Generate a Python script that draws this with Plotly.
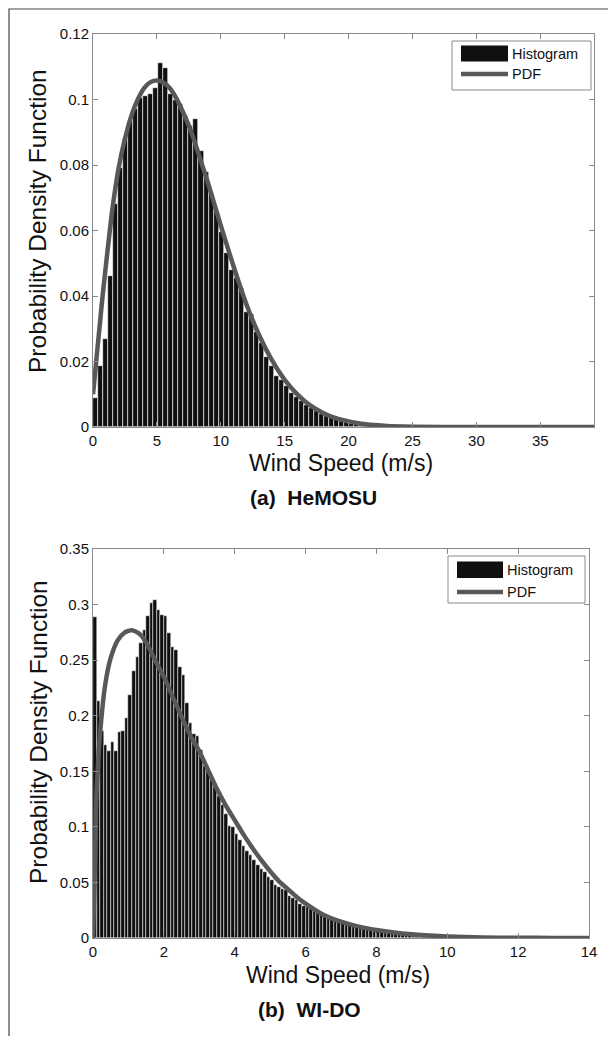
import plotly.graph_objects as go

# ---------------- data: (a) HeMOSU ----------------
hemosu_bin_width = 0.393
hemosu_density = [
    0.009, 0.0185, 0.027, 0.046, 0.068, 0.079, 0.088, 0.0935, 0.097, 0.1005,
    0.1012, 0.1018, 0.1035, 0.111, 0.1095, 0.1017, 0.0998, 0.0985, 0.095, 0.092,
    0.094, 0.0843, 0.078, 0.071, 0.066, 0.0595, 0.053, 0.048, 0.0455, 0.0425,
    0.035, 0.0345, 0.029, 0.0255, 0.0215, 0.0185, 0.0155, 0.0145, 0.0125, 0.0105,
    0.0092, 0.0078, 0.0068, 0.0058, 0.0048, 0.0040, 0.0034, 0.0028, 0.0023, 0.0019,
    0.0016, 0.0013, 0.0011, 0.0009, 0.0007, 0.0006, 0.0005, 0.0004, 0.0003, 0.0003,
    0.0002, 0.0002, 0.0001, 0.0001, 0.0001, 0.00005, 0, 0, 0, 0,
    0, 0, 0, 0, 0, 0, 0, 0, 0, 0,
    0, 0, 0, 0, 0, 0, 0, 0, 0, 0,
    0, 0, 0, 0, 0, 0, 0, 0, 0, 0,
]
hemosu_pdf_x = [0, 0.25, 0.5, 0.75, 1, 1.5, 2, 2.5, 3, 3.5, 4, 4.5, 5, 5.5, 6,
                6.5, 7, 7.5, 8, 8.5, 9, 9.5, 10, 11, 12, 13, 14, 15, 16, 17, 18,
                19, 20, 21, 22, 23, 25, 30, 35, 39.2]
hemosu_pdf_y = [0.010, 0.020, 0.030, 0.040, 0.049, 0.066, 0.079, 0.088, 0.095,
                0.1, 0.1035, 0.1053, 0.1058, 0.1052, 0.1035, 0.1005, 0.0965,
                0.092, 0.0865, 0.0805, 0.0745, 0.068, 0.0615, 0.049, 0.0375,
                0.028, 0.0204, 0.0144, 0.0099, 0.0066, 0.0043, 0.0027, 0.0017,
                0.001, 0.0006, 0.0003, 0.0001, 0, 0, 0]
hemosu_xticks = [0, 5, 10, 15, 20, 25, 30, 35]
hemosu_yticks = [0, 0.02, 0.04, 0.06, 0.08, 0.1, 0.12]

# ---------------- data: (b) WI-DO ----------------
wido_bin_width = 0.1
wido_density = [
    0.289, 0.213, 0.186, 0.174, 0.168, 0.176, 0.168, 0.185, 0.186, 0.198,
    0.219, 0.240, 0.253, 0.265, 0.277, 0.290, 0.301, 0.304, 0.295, 0.291,
    0.290, 0.274, 0.262, 0.259, 0.244, 0.237, 0.211, 0.193, 0.184, 0.182,
    0.169, 0.155, 0.150, 0.142, 0.136, 0.128, 0.120, 0.112, 0.101, 0.100,
    0.094, 0.088, 0.083, 0.078, 0.075, 0.070, 0.066, 0.062, 0.059, 0.055,
    0.052, 0.048, 0.046, 0.044, 0.043, 0.038, 0.036, 0.034, 0.031, 0.029,
    0.028, 0.026, 0.025, 0.023, 0.022, 0.021, 0.020, 0.018, 0.017, 0.016,
    0.014, 0.013, 0.012, 0.011, 0.010, 0.0092, 0.0085, 0.0078, 0.0072, 0.0066,
    0.006, 0.0055, 0.005, 0.0046, 0.0042, 0.0038, 0.0034, 0.0031, 0.0028, 0.0025,
    0.0022, 0.002, 0.0018, 0.0016, 0.0014, 0.0012, 0.0011, 0.001, 0.0009, 0.0008,
    0.0007, 0.0006, 0.0005, 0.0005, 0.0004, 0.0003, 0.0003, 0.0003, 0.0003, 0.0002,
    0.0002, 0.0002, 0.0002, 0.0002, 0.0002, 0.0001, 0.0001, 0.0001, 0.0001, 0.0001,
    0.0001, 0.0001, 0.0001, 0.0001, 0.0001, 0, 0, 0, 0, 0,
    0, 0, 0, 0, 0, 0, 0, 0, 0, 0,
]
wido_pdf_x = [0, 0.05, 0.1, 0.2, 0.35, 0.5, 0.7, 0.9, 1.1, 1.3, 1.5, 1.75, 2.0,
              2.25, 2.5, 2.75, 3.0, 3.25, 3.5, 3.75, 4.0, 4.25, 4.5, 4.75, 5.0,
              5.25, 5.5, 5.75, 6.0, 6.5, 7.0, 7.5, 8.0, 8.5, 9.0, 9.5, 10.0,
              10.5, 11, 12, 13, 14]
wido_pdf_y = [0, 0.06, 0.13, 0.184, 0.229, 0.252, 0.268, 0.275, 0.277, 0.274,
              0.266, 0.250, 0.235, 0.217, 0.199, 0.182, 0.168, 0.151, 0.134,
              0.119, 0.106, 0.093, 0.081, 0.070, 0.060, 0.051, 0.044, 0.037,
              0.031, 0.021, 0.0147, 0.0102, 0.0072, 0.005, 0.0034, 0.0022,
              0.0014, 0.0008, 0.0005, 0.0002, 0.0001, 0.0]
wido_xticks = [0, 2, 4, 6, 8, 10, 12, 14]
wido_yticks = [0, 0.05, 0.1, 0.15, 0.2, 0.25, 0.3, 0.35]

# ---------------- layout geometry (pixels in the 616x1039 window) ----------------
OFF = 8                 # browser default body margin
W, H = 616 - OFF, 1039 - OFF - 3
L, R = 93, 594          # plot left/right (top panel)
T, B = 34, 938          # top of panel (a), bottom of panel (b)
A_BOT = 427             # bottom of panel (a)
B_TOP = 549             # top of panel (b)
B_RIGHT = 589

def px(x):
    return (x - L) / (R - L)

def py(y):
    return (B - y) / (B - T)

BAR_COLOR = "#101010"
PDF_COLOR = "#585858"
AXIS_COLOR = "#8a8a8a"
FONT = "Liberation Sans, Arial, Helvetica, sans-serif"
CAP_FONT = "Liberation Sans, Arial, sans-serif"

fig = go.Figure()

hemosu_centers = [hemosu_bin_width * (i + 0.5) for i in range(len(hemosu_density))]
wido_centers = [wido_bin_width * (i + 0.5) for i in range(len(wido_density))]

fig.add_trace(go.Bar(x=hemosu_centers, y=hemosu_density, width=hemosu_bin_width,
                     marker=dict(color=BAR_COLOR, line=dict(color="#ffffff", width=0.6)),
                     name="Histogram", xaxis="x", yaxis="y", showlegend=False))
fig.add_trace(go.Scatter(x=hemosu_pdf_x, y=hemosu_pdf_y, mode="lines",
                         line=dict(color=PDF_COLOR, width=4.5, shape="spline", smoothing=0.6),
                         name="PDF", xaxis="x", yaxis="y", showlegend=False, cliponaxis=False))
fig.add_trace(go.Bar(x=wido_centers, y=wido_density, width=wido_bin_width,
                     marker=dict(color=BAR_COLOR, line=dict(color="#ffffff", width=0.5)),
                     name="Histogram", xaxis="x2", yaxis="y2", showlegend=False))
fig.add_trace(go.Scatter(x=wido_pdf_x, y=wido_pdf_y, mode="lines",
                         line=dict(color=PDF_COLOR, width=4.5, shape="spline", smoothing=0.6),
                         name="PDF", xaxis="x2", yaxis="y2", showlegend=False, cliponaxis=False))

axis_common = dict(showline=True, linecolor=AXIS_COLOR, linewidth=1, mirror="ticks",
                   ticks="inside", ticklen=5, tickcolor=AXIS_COLOR, tickwidth=1,
                   showgrid=False, zeroline=False,
                   tickfont=dict(family=FONT, size=15, color="#111"))

fig.update_layout(
    width=W, height=H,
    margin=dict(l=L - OFF, r=W - (R - OFF), t=T - OFF, b=H - (B - OFF)),
    paper_bgcolor="white", plot_bgcolor="white",
    bargap=0, showlegend=False,
    xaxis=dict(domain=[0, 1], range=[0, 39.2], anchor="y",
               tickvals=hemosu_xticks, **axis_common),
    yaxis=dict(domain=[py(A_BOT), 1], range=[0, 0.12], anchor="x",
               tickvals=hemosu_yticks, ticktext=[f"{v:g}" for v in hemosu_yticks],
               **axis_common),
    xaxis2=dict(domain=[0, px(B_RIGHT)], range=[0, 14], anchor="y2",
                tickvals=wido_xticks, **axis_common),
    yaxis2=dict(domain=[0, py(B_TOP)], range=[0, 0.35], anchor="x2",
                tickvals=wido_yticks, ticktext=[f"{v:g}" for v in wido_yticks],
                **axis_common),
)

shapes = []
annotations = []

# outer frame
shapes.append(dict(type="rect", xref="paper", yref="paper",
                   x0=px(9), x1=px(609), y0=py(1080), y1=py(9),
                   line=dict(color="#444", width=1.2), layer="below"))

def add_legend(x0, x1, y0, y1, sw_x0, sw_x1, sw_y0, sw_y1, line_y, text_x):
    shapes.append(dict(type="rect", xref="paper", yref="paper",
                       x0=px(x0), x1=px(x1), y0=py(y1), y1=py(y0),
                       line=dict(color=AXIS_COLOR, width=1), fillcolor="white"))
    shapes.append(dict(type="rect", xref="paper", yref="paper",
                       x0=px(sw_x0), x1=px(sw_x1), y0=py(sw_y1), y1=py(sw_y0),
                       line=dict(width=0), fillcolor=BAR_COLOR))
    shapes.append(dict(type="line", xref="paper", yref="paper",
                       x0=px(sw_x0), x1=px(sw_x1), y0=py(line_y), y1=py(line_y),
                       line=dict(color=PDF_COLOR, width=4.5)))
    annotations.append(dict(xref="paper", yref="paper", x=px(text_x),
                            y=py((sw_y0 + sw_y1) / 2), text="Histogram",
                            showarrow=False, xanchor="left", yanchor="middle",
                            font=dict(family=FONT, size=14.5, color="#111")))
    annotations.append(dict(xref="paper", yref="paper", x=px(text_x),
                            y=py(line_y), text="PDF",
                            showarrow=False, xanchor="left", yanchor="middle",
                            font=dict(family=FONT, size=14.5, color="#111")))

add_legend(452, 591, 41, 90, 461, 508, 45.5, 61.5, 74, 510)
add_legend(448, 585, 556, 603, 457, 503, 561.5, 578, 592, 505)

def add_titles(xcenter, xt_y, cap_x, cap_y, cap_text, ycenter):
    annotations.append(dict(xref="paper", yref="paper", x=px(xcenter), y=py(xt_y),
                            text="Wind Speed (m/s)", showarrow=False,
                            xanchor="center", yanchor="middle",
                            font=dict(family=FONT, size=23, color="#111")))
    annotations.append(dict(xref="paper", yref="paper", x=px(cap_x), y=py(cap_y),
                            text=cap_text, showarrow=False,
                            xanchor="center", yanchor="middle",
                            font=dict(family=CAP_FONT, size=21, color="#111")))
    annotations.append(dict(xref="paper", yref="paper", x=px(38), y=py(ycenter),
                            text="Probability Density Function", showarrow=False,
                            textangle=-90, xanchor="center", yanchor="middle",
                            font=dict(family=FONT, size=24.5, color="#111")))

add_titles(341, 463, 313, 497, "<b>(a)\u00a0 HeMOSU</b>", 221)
add_titles(338, 975, 309, 1010, "<b>(b)\u00a0 WI-DO</b>", 732)

fig.update_layout(shapes=shapes, annotations=annotations)

fig.write_html("out.html")
